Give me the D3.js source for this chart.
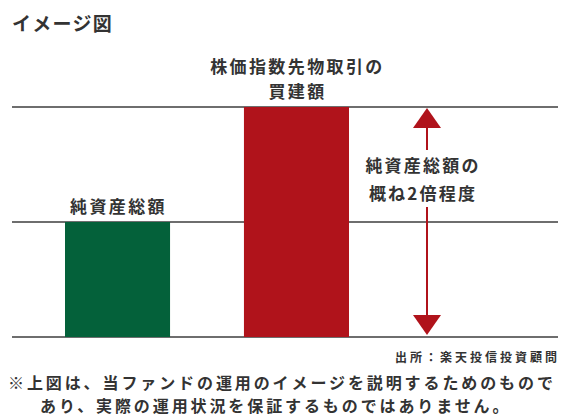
<!DOCTYPE html>
<meta charset="utf-8">
<script src="https://d3js.org/d3.v7.min.js"></script>
<style>
  body { margin: 0; background: #fff; }
  text { font-family: "Noto Sans CJK JP", sans-serif; font-weight: 700; fill: #333; }
</style>
<div id="my_dataviz"></div>
<script>

// data
var categories = ["純資産総額", "株価指数先物取引の買建額"];
var values = [1, 2];
var barLabels = [["純資産総額"], ["株価指数先物取引の", "買建額"]];
var colors = ["#04613a", "#b0131b"];
var levels = [0, 1, 2];
var arrowLabel = ["純資産総額の", "概ね2倍程度"];
var arrowValue = 2;
var source = "出所：楽天投信投資顧問";
var notes = ["※上図は、当ファンドの運用のイメージを説明するためのもので", "あり、実際の運用状況を保証するものではありません。"];

var W = 561, H = 419;

var svg = d3.select("#my_dataviz").append("svg")
    .attr("width", W)
    .attr("height", H);

// scales
var x = d3.scaleBand()
  .domain(categories)
  .range([65, 349])
  .paddingInner(0.413)
  .paddingOuter(0);

var y = d3.scaleLinear()
  .domain([0, 2])
  .range([337, 107]);

// title
svg.append("text")
  .attr("x", 12)
  .attr("y", 31)
  .attr("font-size", "19px")
  .attr("font-weight", 500)
  .attr("letter-spacing", "1.3px")
  .text("イメージ図");

// level lines
svg.append("g").selectAll("line")
  .data(levels)
  .join("line")
    .attr("x1", 12)
    .attr("x2", 558)
    .attr("y1", d => y(d))
    .attr("y2", d => y(d))
    .attr("stroke", "#6e6e6e")
    .attr("stroke-width", 2);

// bars
svg.append("g").selectAll("rect")
  .data(values)
  .join("rect")
    .attr("x", (d, i) => x(categories[i]))
    .attr("width", x.bandwidth())
    .attr("y", d => y(d))
    .attr("height", d => y(0) - y(d))
    .attr("fill", (d, i) => colors[i]);

// bar labels
values.forEach(function(v, i) {
  var lines = barLabels[i];
  var cx = x(categories[i]) + x.bandwidth() / 2 + 1;
  lines.forEach(function(t, j) {
    svg.append("text")
      .attr("x", cx)
      .attr("y", y(v) - 9 - (lines.length - 1 - j) * 25)
      .attr("font-size", "17px")
      .attr("letter-spacing", "2.4px")
      .style("text-anchor", "middle")
      .text(t);
  });
});

// double arrow
var ax = 427;
var ag = svg.append("g").attr("fill", "#b0131b").attr("stroke", "#b0131b");
ag.append("line")
  .attr("x1", ax).attr("x2", ax)
  .attr("y1", y(arrowValue) + 18).attr("y2", 150)
  .attr("stroke-width", 2);
ag.append("line")
  .attr("x1", ax).attr("x2", ax)
  .attr("y1", 207).attr("y2", y(0) - 18)
  .attr("stroke-width", 2);
ag.append("path")
  .attr("d", "M" + ax + "," + (y(arrowValue) + 1) + " L" + (ax + 14) + "," + (y(arrowValue) + 21) + " L" + (ax - 14) + "," + (y(arrowValue) + 21) + "Z")
  .attr("stroke", "none");
ag.append("path")
  .attr("d", "M" + ax + "," + (y(0) - 2) + " L" + (ax + 14) + "," + (y(0) - 22) + " L" + (ax - 14) + "," + (y(0) - 22) + "Z")
  .attr("stroke", "none");

arrowLabel.forEach(function(t, j) {
  svg.append("text")
    .attr("x", 423)
    .attr("y", 172 + j * 28)
    .attr("font-size", "17px")
    .attr("letter-spacing", "2.2px")
    .style("text-anchor", "middle")
    .text(t);
});

// source
svg.append("text")
  .attr("x", 560)
  .attr("y", 362)
  .attr("font-size", "12px")
  .attr("letter-spacing", "3px")
  .style("text-anchor", "end")
  .text(source);

// notes
svg.append("text")
  .attr("x", 8)
  .attr("y", 389)
  .attr("font-size", "16px")
  .attr("font-weight", 500)
  .attr("letter-spacing", "2.9px")
  .text(notes[0]);
svg.append("text")
  .attr("x", 40)
  .attr("y", 412)
  .attr("font-size", "16px")
  .attr("font-weight", 500)
  .attr("letter-spacing", "2.9px")
  .text(notes[1]);

</script>
